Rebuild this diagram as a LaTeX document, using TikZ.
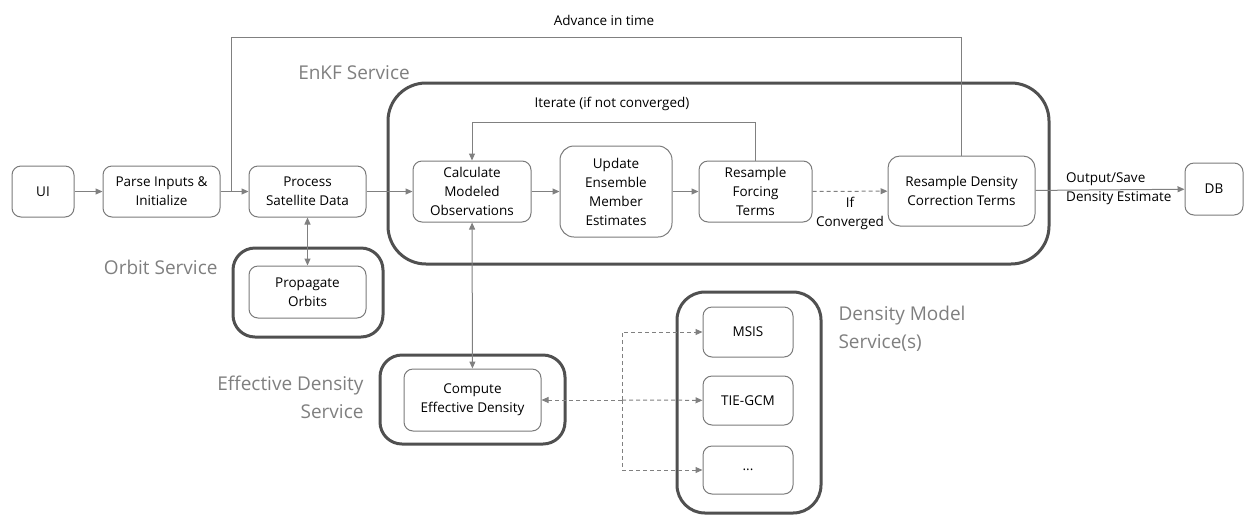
\documentclass[tikz,border=0pt]{standalone}
\usepackage{fontspec}
\setmainfont{Open Sans}
\usetikzlibrary{arrows.meta}

\definecolor{boxline}{HTML}{7A7A7A}
\definecolor{svcline}{HTML}{505050}
\definecolor{svctext}{HTML}{7F7F7F}
\definecolor{conn}{HTML}{808080}

\tikzset{
	stepbox/.style={draw=boxline, line width=1pt, rounded corners=9pt, align=center,
		inner sep=0pt, font=\fontsize{13.5}{19}\selectfont},
	svcbox/.style={draw=svcline, line width=3pt},
	svclabel/.style={text=svctext, font=\fontsize{19}{28}\selectfont},
	note/.style={font=\fontsize{13.5}{19}\selectfont, inner sep=0pt},
	flow/.style={draw=conn, line width=1pt, -{Triangle[length=7pt,width=6pt]}},
	both/.style={draw=conn, line width=1pt, {Triangle[length=7pt,width=6pt]}-{Triangle[length=7pt,width=6pt]}},
	plain/.style={draw=conn, line width=1pt},
	optflow/.style={flow, dash pattern=on 4pt off 3pt},
}

\begin{document}
\begin{tikzpicture}[x=1pt,y=-1pt]
	\useasboundingbox (0,0) rectangle (1244,515);

	% service containers
	\draw[svcbox, rounded corners=38pt] (388,83) rectangle (1049,264);
	\draw[svcbox, rounded corners=22pt] (233,248) rectangle (383,337);
	\draw[svcbox, rounded corners=22pt] (380,355) rectangle (565,444);
	\draw[svcbox, rounded corners=28pt] (677,292) rectangle (821,513);
	\node[svclabel] (enkfsvc) at (354,73) {EnKF Service};
	\node[svclabel, anchor=east] (orbitsvc) at (221,267) {Orbit Service};
	\node[svclabel, anchor=east, align=right] (effsvc) at (367,397) {Effective Density\\Service};
	\node[svclabel, anchor=west, align=left] (dmsvc) at (835,329) {Density Model\\Service(s)};

	% steps
	\node[stepbox, minimum width=62pt, minimum height=51pt] (ui) at (43,191.5) {UI};
	\node[stepbox, minimum width=117pt, minimum height=51pt] (parse) at (161.5,191.5) {Parse Inputs \&\\Initialize};
	\node[stepbox, minimum width=117pt, minimum height=51pt] (process) at (307.5,191.5) {Process\\Satellite Data};
	\node[stepbox, minimum width=117pt, minimum height=52pt] (orbits) at (307.5,292) {Propagate\\Orbits};
	\node[stepbox, minimum width=118pt, minimum height=61pt] (calc) at (472,191.5) {Calculate\\Modeled\\Observations};
	\node[stepbox, minimum width=112pt, minimum height=91pt, rounded corners=14pt] (update) at (616,191.5) {Update\\Ensemble\\Member\\Estimates};
	\node[stepbox, minimum width=113pt, minimum height=61pt] (forcing) at (755.5,191.5) {Resample\\Forcing\\Terms};
	\node[stepbox, minimum width=147pt, minimum height=70pt, rounded corners=12pt] (correct) at (961.5,191) {Resample Density\\Correction Terms};
	\node[stepbox, minimum width=58pt, minimum height=52pt] (db) at (1214,189) {DB};
	\node[stepbox, minimum width=137pt, minimum height=62pt] (effdens) at (472.5,400) {Compute\\Effective Density};
	\node[stepbox, minimum width=90pt, minimum height=50pt] (msis) at (748,332) {MSIS};
	\node[stepbox, minimum width=90pt, minimum height=49pt] (tiegcm) at (748,400.5) {TIE-GCM};
	\node[stepbox, minimum width=90pt, minimum height=48pt] (other) at (748,470) {...};

	% main flow
	\draw[flow] (ui) -- (parse);
	\draw[flow] (parse) -- (process);
	\draw[flow] (process) -- (calc);
	\draw[flow] (calc) -- (update);
	\draw[flow] (update) -- (forcing);
	\draw[optflow] (forcing) -- (correct);
	\node[note, align=center] (conv) at (850,213) {If\\Converged};
	\draw[flow] (correct) -- (db);
	\node[note, align=left, anchor=west] (save) at (1066,189) {Output/Save\\Density Estimate};

	% loops
	\coordinate (itertop) at (472,122);
	\draw[flow] (forcing.north) |- (itertop) -- (calc.north);
	\node[note] (iterate) at (612,104) {Iterate (if not converged)};
	\coordinate (advtop) at (231,37);
	\coordinate (advjoin) at (231,191.5);
	\draw[plain] (correct.north) |- (advtop) -- (advjoin);
	\node[note] (advance) at (604,20) {Advance in time};

	% service calls
	\draw[both] (process) -- (orbits);
	\draw[both] (calc) -- (effdens);
	\coordinate (split) at (622,400);
	\draw[optflow, {Triangle[length=7pt,width=6pt]}-] (effdens) -- (split);
	\draw[optflow] (split) -- (tiegcm);
	\draw[optflow] (split) |- (msis);
	\draw[optflow] (split) |- (other);
\end{tikzpicture}
\end{document}
